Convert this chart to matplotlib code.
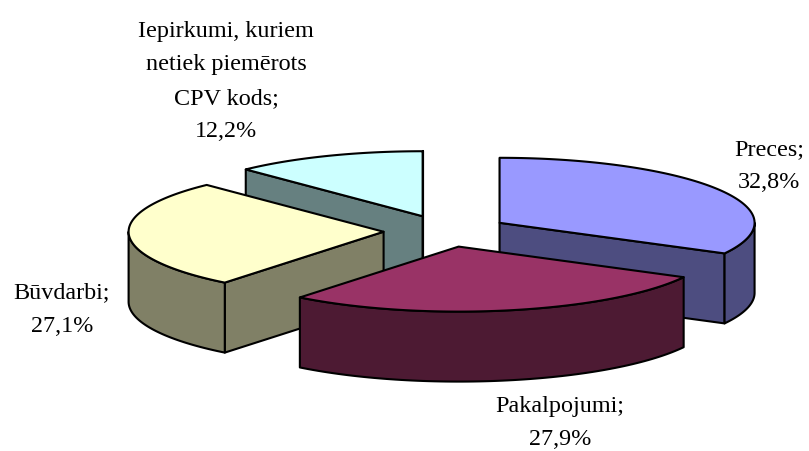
import numpy as np
import matplotlib
matplotlib.use("Agg")
import matplotlib.pyplot as plt

categories = ["Preces", "Pakalpojumi", "Būvdarbi", "Iepirkumi, kuriem\nnetiek piemērots\nCPV kods"]
values = [32.8, 27.9, 27.1, 12.2]
top_colors = ["#9999FF", "#993366", "#FFFFCC", "#CCFFFF"]
side_colors = ["#4D4D80", "#4D1A33", "#808066", "#668080"]
label_xy = [(769, 166), (560, 423), (62, 309.5), (226, 81.5)]

W, H = 809, 451
CX, CY, A, B, DEPTH, EXPLODE = 446, 231, 255, 65, 70, 0.245
LW = 1.5

fig = plt.figure(figsize=(W / 100, H / 100), dpi=100)
ax = fig.add_axes([0, 0, 1, 1])
ax.set_xlim(0, W)
ax.set_ylim(H, 0)
ax.axis("off")

fractions = np.array(values) / sum(values)
edges = np.concatenate([[0], np.cumsum(fractions)]) * 2 * np.pi


def point(ox, oy, t):
    return ox + A * np.sin(t), oy - B * np.cos(t)


def poly(xs, ys, color, z):
    ax.fill(xs, ys, facecolor=color, edgecolor="black", linewidth=LW,
            joinstyle="round", zorder=z)


# draw order: back slices first, front slice last
for z, i in enumerate([3, 0, 2, 1]):
    t0, t1 = edges[i], edges[i + 1]
    mid = (t0 + t1) / 2
    ox = CX + EXPLODE * A * np.sin(mid)
    oy = CY - EXPLODE * B * np.cos(mid)
    base = z * 10
    # a cut face shows only when it turns towards the viewer
    for t, visible in ((t0, np.sin(t0) < -1e-6), (t1, np.sin(t1) > 1e-6)):
        px, py = point(ox, oy, t)
        if visible or abs(np.sin(t)) < 1e-6:
            poly([ox, px, px, ox], [oy, py, py + DEPTH, oy + DEPTH], side_colors[i], base + 1)
    r0, r1 = max(t0, np.pi / 2), min(t1, 3 * np.pi / 2)
    if r1 > r0:
        tt = np.linspace(r0, r1, 80)
        rx, ry = point(ox, oy, tt)
        poly(np.r_[rx, rx[::-1]], np.r_[ry, ry[::-1] + DEPTH], side_colors[i], base + 2)
    tt = np.linspace(t0, t1, 160)
    tx, ty = point(ox, oy, tt)
    poly(np.r_[ox, tx], np.r_[oy, ty], top_colors[i], base + 3)

for name, val, (x, y) in zip(categories, values, label_xy):
    txt = f"{name};\n{val:.1f}%".replace(".", ",")
    ax.text(x, y, txt, ha="center", va="center", family="Liberation Serif",
            fontsize=17.4, linespacing=1.78, color="black", zorder=100)

fig.savefig("out.png", dpi=100)
